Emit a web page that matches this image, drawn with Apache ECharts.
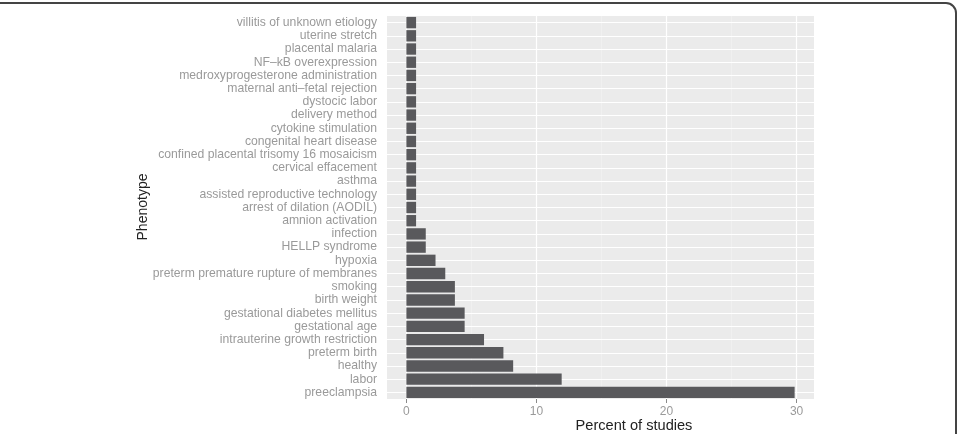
<!DOCTYPE html>
<html lang="en">
<head>
<meta charset="UTF-8">
<title>Phenotype</title>
<style>
  html, body {margin:0; padding:0; background:#fff}
  #chart {width:961px; height:434px}
</style>
<script src="https://cdn.jsdelivr.net/npm/echarts@6/dist/echarts.min.js"></script>
</head>
<body>
<div id="chart"></div>
<script>
// categories top to bottom
const phenotypes = [
  'villitis of unknown etiology', 'uterine stretch', 'placental malaria', 'NF–kB overexpression',
  'medroxyprogesterone administration', 'maternal anti–fetal rejection', 'dystocic labor',
  'delivery method', 'cytokine stimulation', 'congenital heart disease',
  'confined placental trisomy 16 mosaicism', 'cervical effacement', 'asthma',
  'assisted reproductive technology', 'arrest of dilation (AODIL)', 'amnion activation',
  'infection', 'HELLP syndrome', 'hypoxia', 'preterm premature rupture of membranes',
  'smoking', 'birth weight', 'gestational diabetes mellitus', 'gestational age',
  'intrauterine growth restriction', 'preterm birth', 'healthy', 'labor', 'preeclampsia'
]
const percents = [
  0.746, 0.746, 0.746, 0.746, 0.746, 0.746, 0.746, 0.746, 0.746, 0.746,
  0.746, 0.746, 0.746, 0.746, 0.746, 0.746,
  1.49, 1.49, 2.24, 2.99, 3.73, 3.73, 4.48, 4.48, 5.97, 7.46, 8.21, 11.94, 29.85
]
const xTicks = [0, 10, 20, 30]
const xMinor = [5, 15, 25]

let chart = echarts.init(document.getElementById('chart'))
const font = 'Liberation Sans, Arial, sans-serif'

let option = {
  animation: false,
  textStyle: {fontFamily: font},
  grid: {left: 387, right: 147, top: 16, bottom: 35, outerBoundsMode: 'none', containLabel: false,
         show: true, backgroundColor: '#EBEBEB', borderWidth: 0},
  xAxis: {
    type: 'value', min: -1.49, max: 31.34,
    axisLine: {show: false},
    axisTick: {show: true, length: 4, customValues: xTicks, lineStyle: {color: '#8a8a8a'}},
    axisLabel: {customValues: xTicks, color: '#9a9a9a', fontSize: 12, margin: 7, fontFamily: font},
    splitLine: {show: false}
  },
  yAxis: {
    type: 'category', data: phenotypes, inverse: true,
    axisLine: {show: false},
    axisTick: {show: true, length: 4, interval: 0, alignWithLabel: true, lineStyle: {color: '#8a8a8a'}},
    axisLabel: {interval: 0, color: '#9a9a9a', fontSize: 12.2, margin: 10, fontFamily: font},
    splitLine: {show: false}
  },
  graphic: [
    {type: 'rect', shape: {x: -10, y: 3, width: 966, height: 500, r: 10},
     style: {fill: 'none', stroke: '#444', lineWidth: 2}, silent: true},
    {type: 'text', x: 143, y: 207, rotation: Math.PI / 2,
     style: {text: 'Phenotype', fontSize: 14, fill: '#222', fontFamily: font, align: 'center', verticalAlign: 'middle'}},
    {type: 'text', x: 634, y: 426,
     style: {text: 'Percent of studies', fontSize: 14.6, fill: '#222', fontFamily: font, align: 'center', verticalAlign: 'middle'}}
  ],
  series: [
    {
      type: 'line', data: [], z: 1, silent: true,
      markLine: {
        z: 1, silent: true, symbol: 'none', label: {show: false}, animation: false,
        data: [
          ...xMinor.map(v => ({xAxis: v, lineStyle: {color: '#F3F3F3', width: 0.6, type: 'solid'}})),
          ...xTicks.map(v => ({xAxis: v, lineStyle: {color: '#FFFFFF', width: 1.2, type: 'solid'}})),
          ...phenotypes.map(p => ({yAxis: p, lineStyle: {color: '#FFFFFF', width: 1.2, type: 'solid'}}))
        ]
      }
    },
    {
      type: 'bar', data: percents, z: 3, barCategoryGap: '14%',
      itemStyle: {color: '#59595C'}
    }
  ]
}

chart.setOption(option)
</script>
</body>
</html>
